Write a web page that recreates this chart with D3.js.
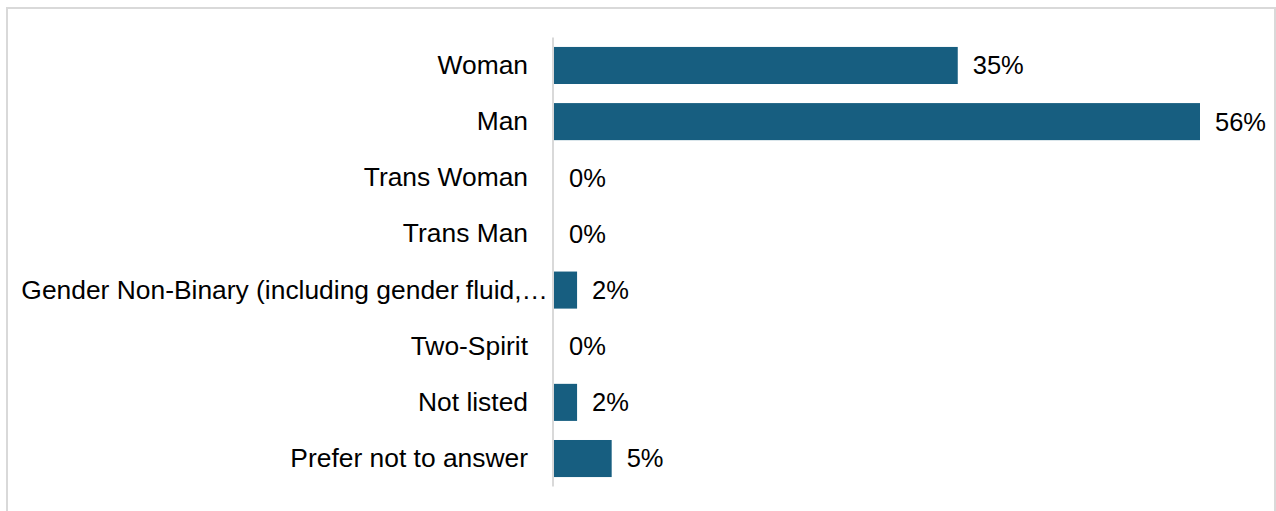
<!DOCTYPE html>
<html>
<head>
<meta charset="utf-8">
<script src="https://cdn.jsdelivr.net/npm/d3@7"></script>
<style>
  body { margin: 0; background: #fff; }
  svg text { font-family: "Liberation Sans", Arial, sans-serif; fill: #000; }
</style>
</head>
<body>
<div id="chart"></div>
<script>
// Chart data
const categories = ["Woman", "Man", "Trans Woman", "Trans Man",
  "Gender Non-Binary (including gender fluid, genderqueer)", "Two-Spirit", "Not listed", "Prefer not to answer"];
const values = [35, 56, 0, 0, 2, 0, 2, 5];

const W = 1276, H = 511;
const axisX = 553;
const catFont = 26.4;
const valFont = 25.5;

const svg = d3.select("#chart").append("svg")
    .attr("width", W)
    .attr("height", H);

// outer frame
svg.append("rect")
    .attr("x", 7).attr("y", 8)
    .attr("width", W - 8).attr("height", H)
    .attr("fill", "none")
    .attr("stroke", "#d9d9d9")
    .attr("stroke-width", 2);

const x = d3.scaleLinear()
    .domain([0, 56])
    .range([axisX + 1, 1200]);

const y = d3.scaleBand()
    .domain(categories)
    .range([37.4, 486.6])
    .paddingInner(0.34)
    .paddingOuter(0.17);

const data = categories.map((c, i) => ({ cat: c, val: values[i] }));

// bars
svg.selectAll(".bar")
    .data(data)
    .enter()
    .append("rect")
    .attr("class", "bar")
    .attr("x", x(0))
    .attr("y", d => y(d.cat))
    .attr("width", d => x(d.val) - x(0))
    .attr("height", y.bandwidth())
    .attr("fill", "#175e80");

// vertical axis line
const yAxis = svg.append("g")
    .attr("transform", `translate(${axisX},0)`)
    .call(d3.axisLeft(y).tickSize(0).tickFormat(""));
yAxis.select(".domain")
    .attr("d", `M0,${y.range()[0]}V${y.range()[1]}`)
    .attr("stroke", "#d9d9d9")
    .attr("stroke-width", 2);

// category labels (truncate long ones with an ellipsis like the original)
svg.selectAll(".cat-label")
    .data(data)
    .enter()
    .append("text")
    .attr("class", "cat-label")
    .attr("x", axisX - 25)
    .attr("y", d => y(d.cat) + y.bandwidth() / 2)
    .attr("dy", "0.32em")
    .attr("text-anchor", "end")
    .style("font-size", catFont + "px")
    .text(d => d.cat)
    .each(function(d) {
        const el = d3.select(this);
        const leftLimit = 18;
        if (this.getComputedTextLength() > (axisX - 25) - leftLimit) {
            el.attr("x", axisX - 5);
            let s = d.cat;
            while (s.length > 0 && this.getComputedTextLength() > (axisX - 5) - leftLimit) {
                s = s.slice(0, -1);
                el.text(s.trimEnd() + "…");
            }
        }
    });

// value labels
svg.selectAll(".val-label")
    .data(data)
    .enter()
    .append("text")
    .attr("class", "val-label")
    .attr("x", d => x(d.val) + 15)
    .attr("y", d => y(d.cat) + y.bandwidth() / 2)
    .attr("dy", "0.35em")
    .style("font-size", valFont + "px")
    .text(d => d.val + "%");
</script>
</body>
</html>
